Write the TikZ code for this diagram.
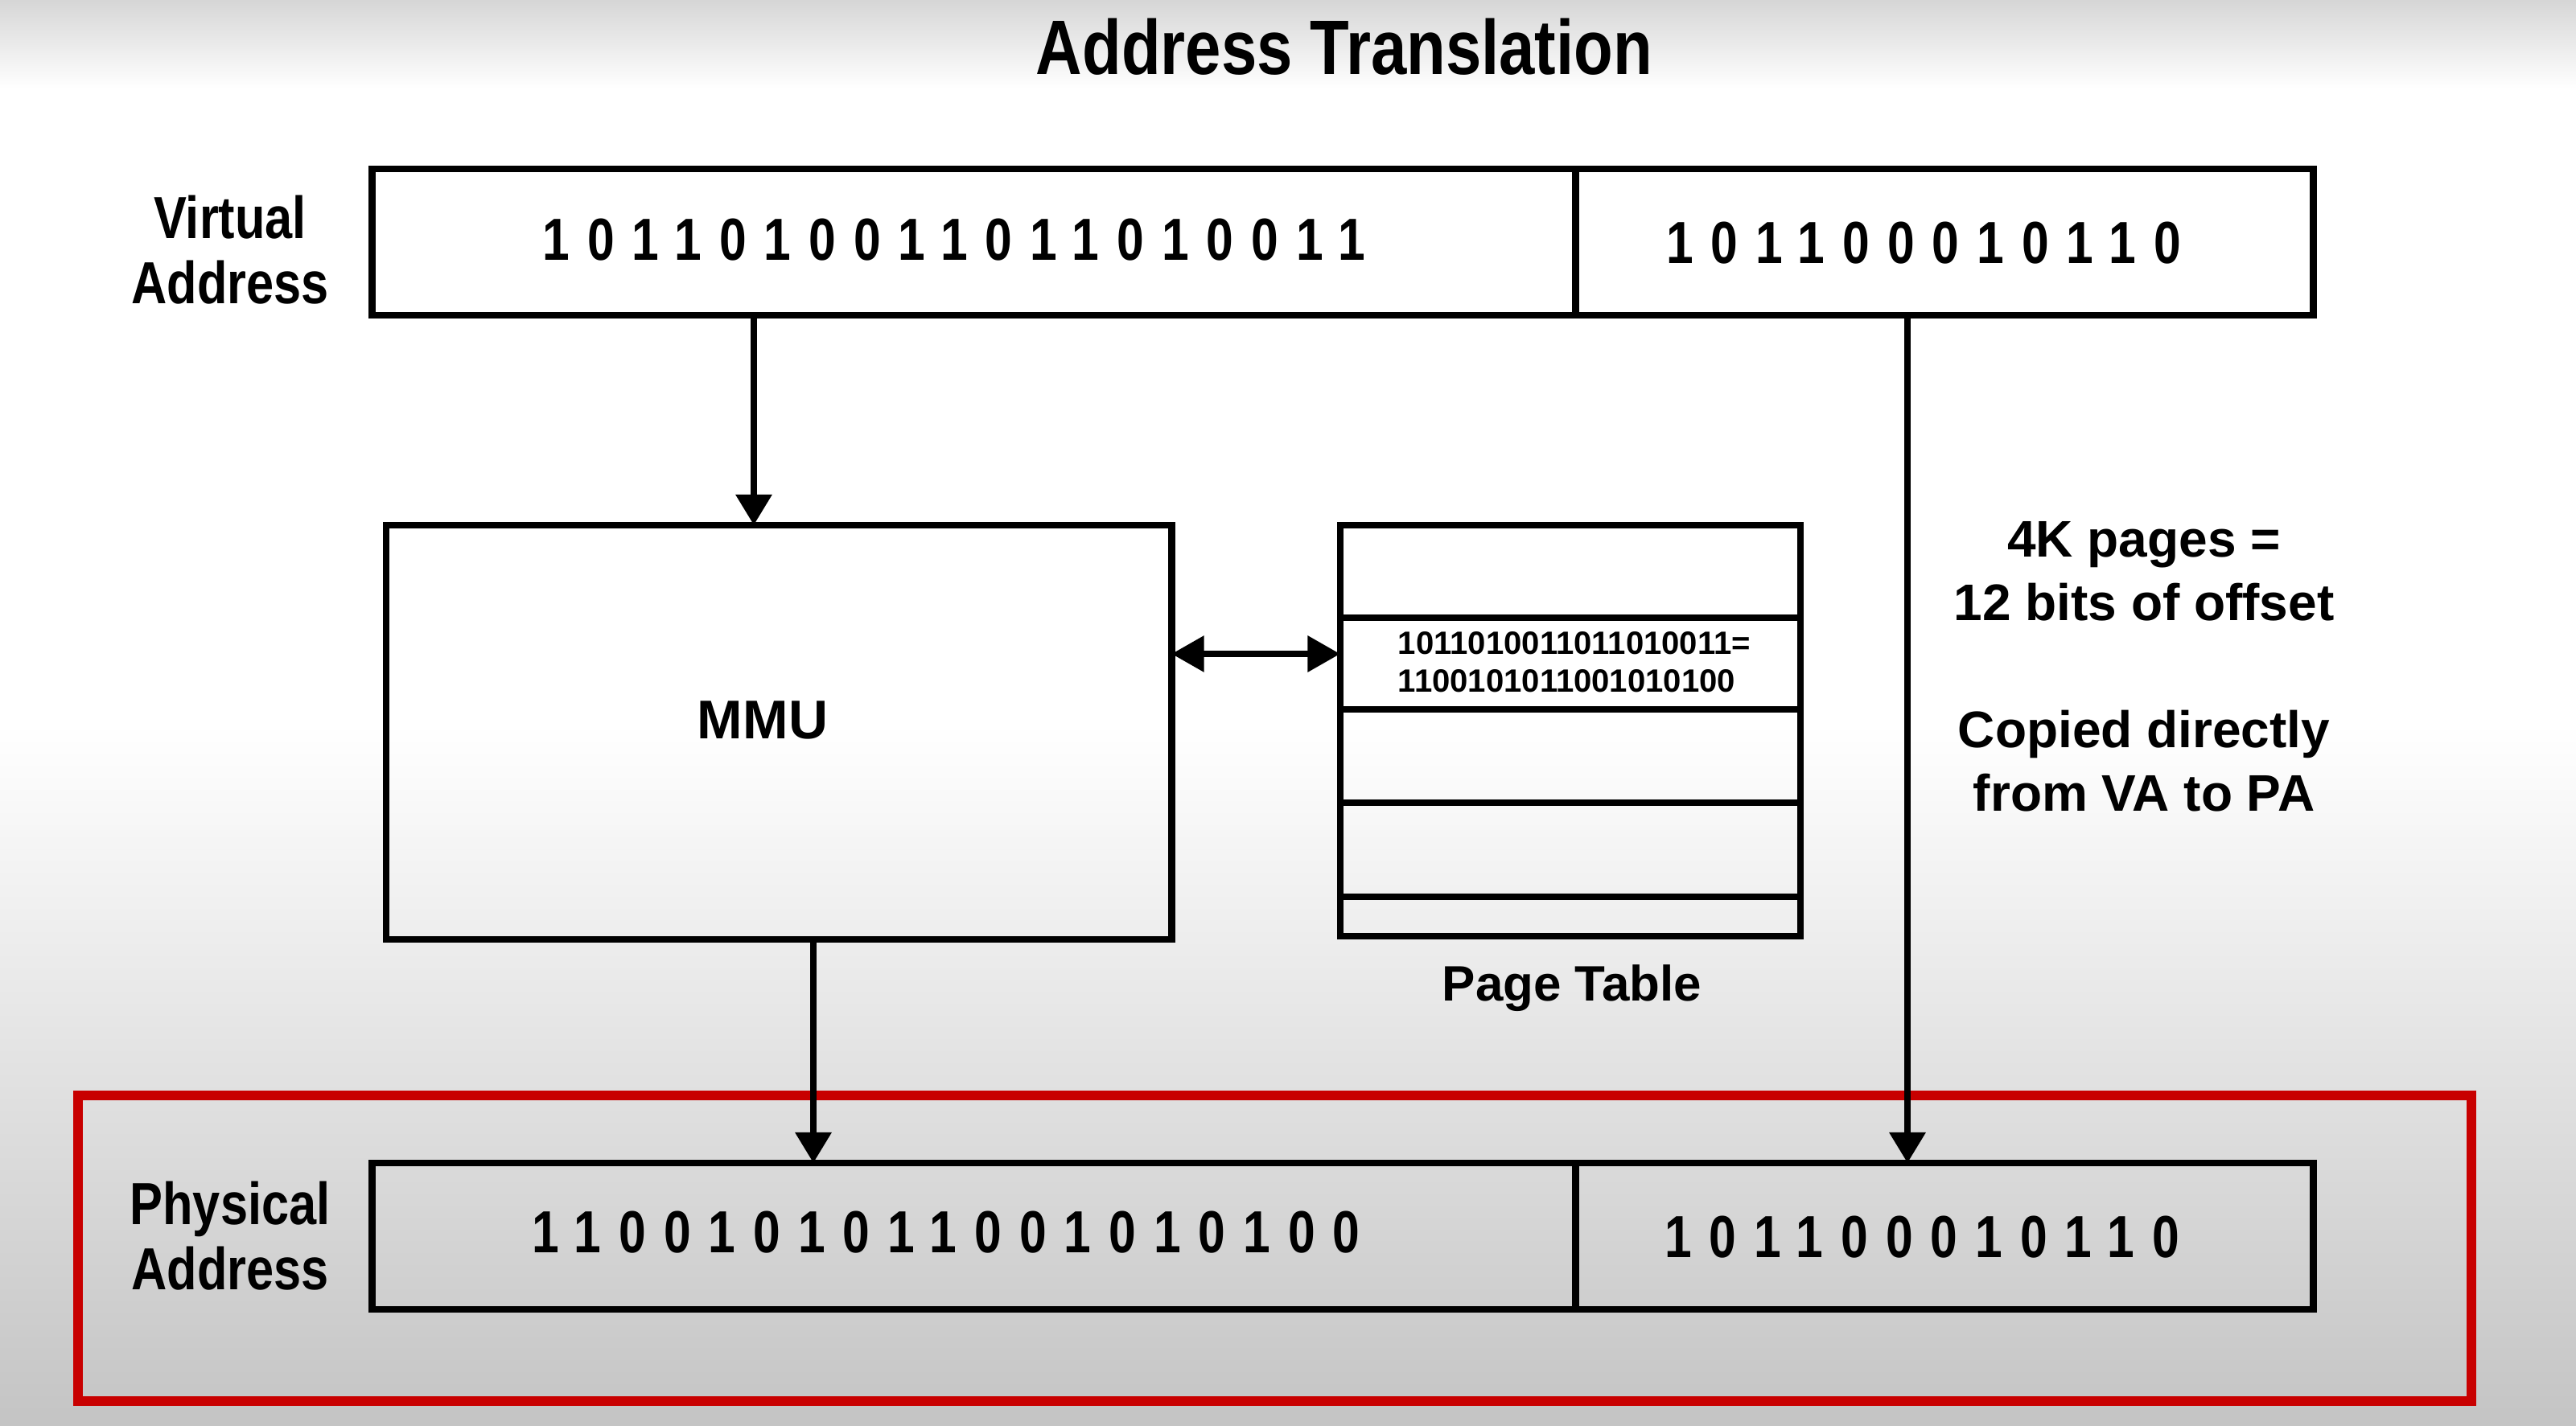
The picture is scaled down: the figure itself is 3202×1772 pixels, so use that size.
\documentclass[tikz,border=0pt]{standalone}
\usepackage{fontspec}
\setmainfont{Liberation Sans}
\newfontfamily\condfam[FakeStretch=0.83]{Liberation Sans}
\newfontfamily\bitsfam[FakeStretch=0.82,LetterSpace=29.8]{Liberation Sans}
\usetikzlibrary{arrows.meta}
\definecolor{redc}{HTML}{C80000}
\definecolor{bglow}{HTML}{C4C4C4}
\definecolor{bgtop}{HTML}{D6D6D6}
\tikzset{
  box/.style={draw=black, line width=2.4pt, inner sep=0pt, outer sep=0pt},
  tip/.style={},
  arr/.style={line width=2.2pt, -{Triangle[length=10.8pt,width=12.4pt]}},
  dbl/.style={line width=2.2pt, {Triangle[length=11.5pt,width=12.4pt]}-{Triangle[length=11.5pt,width=12.4pt]}},
  bits/.style={inner sep=0pt, font=\bitsfam\bfseries\fontsize{21pt}{25pt}\selectfont},
  lbl/.style={inner sep=0pt, align=center, font=\condfam\bfseries\fontsize{21pt}{23pt}\selectfont},
  note/.style={inner sep=0pt, align=center, font=\bfseries\fontsize{18.2pt}{22.5pt}\selectfont},
  ptxt/.style={inner sep=0pt, align=left, font=\bfseries\fontsize{11.4pt}{13.4pt}\selectfont},
}
\begin{document}
\begin{tikzpicture}[x=0.01cm, y=-0.01cm]
\useasboundingbox (0,0) rectangle (3202,1772);
% background
\shade[top color=bgtop, bottom color=white] (0,0) rectangle (3202,110);
\fill[white] (0,109) rectangle (3202,901);
\shade[top color=white, bottom color=bglow] (0,900) rectangle (3202,1772);

% title
\node[anchor=base, inner sep=0pt, font=\condfam\bfseries\fontsize{27.3pt}{30pt}\selectfont] (title) at (1671,92) {Address Translation};

% virtual address
\node[lbl] (vlab) at (286,311) {Virtual\\Address};
\node[box, minimum width=14.95cm, minimum height=1.82cm] (vpn) at (1210.5,301) {};
\node[box, minimum width=9.17cm, minimum height=1.82cm] (voff) at (2416.5,301) {};
\node[bits] (vpnt) at (1186,298) {1011010011011010011};
\node[bits] (vofft) at (2391,302) {101100010110};

% MMU
\node[box, minimum width=9.76cm, minimum height=5.15cm] (mmu) at (968,910.5) {};
\node[anchor=base, inner sep=0pt, font=\bfseries\fontsize{19.3pt}{22pt}\selectfont] (mmut) at (948,918) {MMU};

% page table
\node[box, minimum width=5.72cm, minimum height=1.15cm] (pt1) at (1952,710.5) {};
\node[box, minimum width=5.72cm, minimum height=1.14cm] (pt2) at (1952,825) {};
\node[box, minimum width=5.72cm, minimum height=1.16cm] (pt3) at (1952,940) {};
\node[box, minimum width=5.72cm, minimum height=1.17cm] (pt4) at (1952,1056.5) {};
\node[box, minimum width=5.72cm, minimum height=0.49cm] (pt5) at (1952,1139.5) {};
\node[ptxt] (ptt) at (1957,823) {1011010011011010011=\\1100101011001010100};
\node[anchor=base, inner sep=0pt, font=\bfseries\fontsize{17.6pt}{20pt}\selectfont] (ptlab) at (1954,1244) {Page Table};

% note
\node[note] (note) at (2665,829) {4K pages =\\12 bits of offset\\\mbox{}\\Copied directly\\from VA to PA};

% physical address
\node[draw=redc, line width=3.4pt, inner sep=0pt, outer sep=0pt, minimum width=29.73cm, minimum height=3.80cm] (pabox) at (1584.5,1552) {};
\node[lbl] (plab) at (286,1537) {Physical\\Address};
\node[box, minimum width=14.95cm, minimum height=1.82cm] (ppn) at (1210.5,1537) {};
\node[box, minimum width=9.17cm, minimum height=1.82cm] (poff) at (2416.5,1537) {};
\node[bits] (ppnt) at (1176,1532) {1100101011001010100};
\node[bits] (pofft) at (2389,1538) {101100010110};

% connectors
\coordinate (xa) at (937,0);
\coordinate (xb) at (1011,0);
\coordinate (xc) at (2371,0);
\coordinate (ya) at (0,813);
\draw[arr] (vpn.south -| xa) -- (mmu.north -| xa);
\draw[arr] (mmu.south -| xb) -- (ppn.north -| xb);
\draw[arr] (voff.south -| xc) -- (poff.north -| xc);
\draw[dbl] (mmu.east |- ya) -- (pt2.west |- ya);
\end{tikzpicture}
\end{document}
